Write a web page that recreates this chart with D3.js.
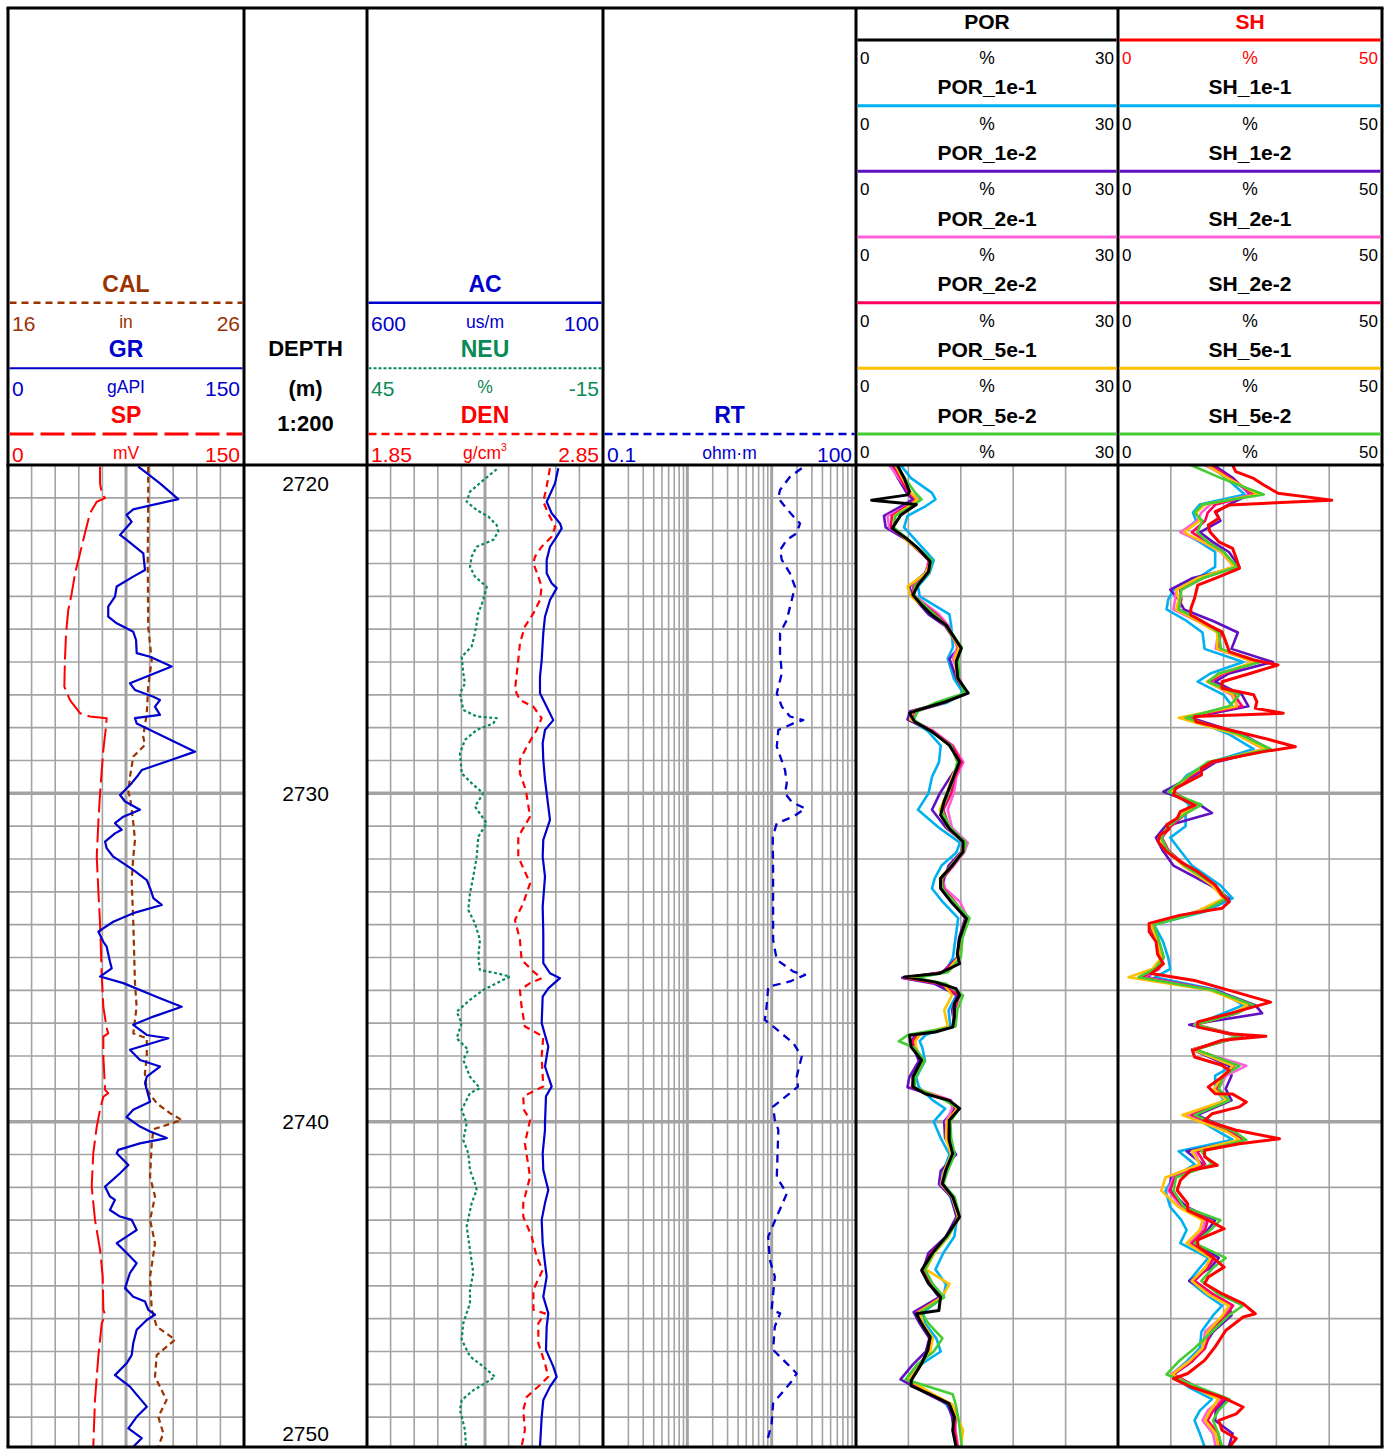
<!DOCTYPE html>
<html>
<head>
<meta charset="utf-8">
<script src="https://cdn.jsdelivr.net/npm/d3@7"></script>
<style>
  html, body { margin: 0; padding: 0; background: #fff; }
  svg { display: block; }
</style>
</head>
<body>
<svg id="log" width="1389" height="1449"></svg>
<script>
// ---------------------------------------------------------------
// Well log panel, 2720–2750 m, 1:200
// Each curve: [depth (m), value]
// ---------------------------------------------------------------
const DEPTH_TOP = 2720, DEPTH_BASE = 2750;
const DEPTH_LABELS = [2720, 2730, 2740, 2750];

const GR = [[2720.05,82.8],[2720.25,88.2],[2720.56,96.6],[2721.04,108.2],[2721.35,79.6],[2721.52,75.4],[2721.73,78.6],[2722.13,71.2],[2722.28,75.4],[2722.69,86],[2722.9,86.4],[2723.2,87.1],[2723.4,79.6],[2723.7,69.1],[2724.01,68],[2724.31,63.7],[2724.62,63.7],[2724.82,69.1],[2725.08,79.6],[2725.33,81.4],[2725.73,81.8],[2725.84,90.3],[2726.14,104],[2726.65,77.5],[2726.85,80.7],[2727.06,92.4],[2727.16,96.6],[2727.36,93.4],[2727.61,96.6],[2727.71,80.7],[2727.87,81.8],[2728.73,118.9],[2729.03,100.9],[2729.29,85],[2729.44,82.8],[2729.69,78.6],[2729.9,74.4],[2730.05,71.2],[2730.25,74.4],[2730.5,83.9],[2730.71,73.3],[2730.91,68],[2731.11,72.3],[2731.22,68],[2731.47,61.7],[2731.67,62.7],[2731.93,66.9],[2732.33,79.6],[2732.64,88.2],[2732.94,90.7],[2733.19,92.4],[2733.4,97.7],[2733.65,79.6],[2733.91,66.9],[2734.21,57.4],[2734.52,60.6],[2734.67,62.7],[2735.12,64.8],[2735.33,65.9],[2735.58,58.5],[2735.78,73.3],[2736.24,96.6],[2736.5,110.4],[2736.8,92.4],[2737.05,79.6],[2737.36,88.2],[2737.46,101.9],[2737.81,77.5],[2738.12,83.9],[2738.32,96.6],[2738.63,88.2],[2738.83,87.1],[2739.39,90.3],[2739.64,79.6],[2739.86,75.4],[2740.15,83.9],[2740.3,90.3],[2740.5,100.9],[2740.66,83.9],[2740.86,70.1],[2740.96,69.1],[2741.32,76.5],[2741.57,71.2],[2741.98,61.7],[2742.28,64.8],[2742.38,68],[2742.69,64.8],[2742.89,71.2],[2742.99,78.6],[2743.3,81.8],[2743.5,75.4],[2743.7,69.1],[2744.0,75.4],[2744.31,81.8],[2744.61,77.5],[2745.07,74.4],[2745.33,79.6],[2745.48,87.1],[2745.73,89.2],[2745.88,93.4],[2746.04,88.2],[2746.34,81.8],[2746.75,79.6],[2747.11,78.6],[2747.36,75.4],[2747.72,68],[2748.07,77.5],[2748.68,88.2],[2748.99,81.8],[2749.34,76.5],[2749.64,85],[2749.9,79.6]];

const SP = [[2720.05,58.5],[2720.56,58.5],[2720.86,59.6],[2721.01,61.7],[2721.12,56.4],[2721.47,52.1],[2722.08,48.9],[2722.69,45.8],[2723.3,42.6],[2723.91,40.5],[2724.42,38.3],[2725.12,36.9],[2725.94,36.2],[2726.75,35.8],[2727.16,39.4],[2727.56,45.8],[2727.66,52.1],[2727.71,62.7],[2727.97,62.3],[2728.68,60.6],[2729.29,59.6],[2730.0,58.5],[2730.91,57.4],[2731.93,56.4],[2732.94,57.4],[2733.95,58.5],[2735.58,59.6],[2736.5,60.6],[2737.15,62.7],[2737.31,63.7],[2737.41,60.6],[2738.02,60.6],[2739.03,61.7],[2739.13,63.7],[2739.24,60.6],[2739.64,58.5],[2740.15,56.4],[2740.96,54.2],[2741.98,53.2],[2742.99,55.3],[2743.9,58.5],[2744.72,60.2],[2745.73,60.6],[2745.88,61.7],[2746.14,59.6],[2747.15,57.4],[2748.47,55.3],[2749.9,54.2]];

const CAL = [[2720.05,21.94],[2721.01,21.94],[2722.89,21.92],[2724.92,21.94],[2725.94,22.09],[2726.75,21.94],[2727.56,21.88],[2728.27,21.73],[2728.53,21.8],[2728.88,21.31],[2729.49,21.17],[2730.0,21.1],[2730.1,21.17],[2730.91,21.31],[2731.42,21.38],[2731.93,21.31],[2732.64,21.24],[2733.96,21.31],[2735.78,21.38],[2736.5,21.45],[2736.9,21.38],[2737.31,21.31],[2737.46,21.88],[2738.02,21.88],[2738.53,21.8],[2739.03,21.88],[2739.44,22.3],[2739.74,22.86],[2739.95,23.36],[2740.23,22.16],[2740.66,22.09],[2741.68,22.02],[2742.28,22.23],[2742.99,22.02],[2743.7,22.23],[2744.72,22.02],[2745.73,22.09],[2746.24,22.3],[2746.64,23.08],[2747.11,22.3],[2747.77,22.23],[2748.48,22.72],[2748.99,22.37],[2749.49,22.58],[2749.9,22.37]];

const AC = [[2720.1,194.7],[2720.56,201.7],[2721.12,219.3],[2721.47,208.7],[2721.78,191.1],[2721.93,187.5],[2722.18,198.1],[2722.49,212.3],[2722.89,219.3],[2723.3,219.3],[2723.6,208.7],[2723.75,198.1],[2724.11,212.3],[2724.62,222.9],[2725.12,226.5],[2725.94,229.9],[2726.45,233.5],[2726.95,233.5],[2727.36,219.3],[2727.77,205.3],[2728.07,222.9],[2728.47,227.8],[2728.98,226.5],[2729.59,222.9],[2730.0,219.3],[2730.81,212.3],[2731.42,226.5],[2731.93,227.8],[2732.54,222.9],[2733.45,227.8],[2734.26,226.5],[2735.17,226.5],[2735.48,212.3],[2735.63,191.1],[2735.94,215.9],[2736.19,227.8],[2737.0,229.9],[2737.71,215.9],[2738.32,222.9],[2738.93,208.7],[2739.23,220.8],[2740.05,222.9],[2740.25,222.9],[2740.96,227.8],[2741.47,226.5],[2742.08,215.9],[2742.48,222.9],[2742.99,229.9],[2743.7,227.8],[2744.31,222.9],[2744.72,219.3],[2745.33,226.5],[2745.84,215.9],[2746.24,219.3],[2746.95,220.8],[2747.46,205.3],[2747.77,198.1],[2748.07,212.3],[2748.48,226.5],[2748.99,229.9],[2749.9,233.5]];

const NEU = [[2720.13,12.03],[2720.46,15.4],[2720.81,18.82],[2721.12,19.66],[2721.37,17.11],[2721.57,14.17],[2721.83,12.03],[2722.03,11.62],[2722.28,12.9],[2722.49,17.11],[2722.79,18.39],[2723.1,18.82],[2723.4,17.55],[2723.71,14.57],[2724.11,15.44],[2724.52,16.71],[2725.12,17.55],[2725.53,18.39],[2725.84,20.93],[2726.34,20.52],[2726.65,20.09],[2726.95,21.36],[2727.46,20.52],[2727.66,17.11],[2727.71,12.03],[2727.87,12.9],[2728.07,17.11],[2728.37,20.09],[2728.78,21.36],[2729.39,20.93],[2729.74,17.98],[2730.0,15.44],[2730.4,17.55],[2730.91,14.57],[2731.32,16.71],[2731.93,17.11],[2732.54,17.98],[2733.04,18.82],[2733.55,19.25],[2733.96,17.55],[2734.46,16.28],[2734.97,16.71],[2735.38,16.28],[2735.48,12.03],[2735.58,8.65],[2735.73,11.19],[2735.99,15.44],[2736.29,18.82],[2736.65,22.2],[2737.0,20.93],[2737.46,22.2],[2737.81,19.25],[2738.12,20.52],[2738.63,18.82],[2738.98,16.28],[2739.13,18.82],[2739.64,20.93],[2740.05,19.66],[2740.56,20.52],[2740.96,19.25],[2741.47,18.82],[2741.88,17.55],[2742.08,17.11],[2742.48,18.39],[2743.19,19.66],[2743.9,18.82],[2744.61,17.98],[2745.12,18.82],[2745.53,18.82],[2746.14,20.52],[2746.64,20.93],[2747.15,18.82],[2747.46,15.44],[2747.77,12.46],[2747.97,15.0],[2748.18,17.98],[2748.48,20.93],[2748.78,21.36],[2749.39,20.09],[2749.9,19.83]];

const DEN = [[2720.1,2.625],[2720.66,2.611],[2721.12,2.597],[2721.47,2.618],[2721.88,2.647],[2722.18,2.633],[2722.49,2.59],[2722.79,2.562],[2722.99,2.555],[2723.4,2.576],[2723.71,2.59],[2724.11,2.583],[2724.52,2.555],[2724.92,2.519],[2725.43,2.498],[2725.94,2.491],[2726.85,2.477],[2727.16,2.498],[2727.36,2.555],[2727.71,2.59],[2728.07,2.569],[2728.58,2.527],[2728.98,2.498],[2729.39,2.498],[2729.9,2.523],[2730.71,2.541],[2731.32,2.491],[2731.93,2.491],[2732.74,2.541],[2733.35,2.512],[2733.86,2.477],[2734.46,2.498],[2735.07,2.505],[2735.43,2.555],[2735.63,2.59],[2735.78,2.541],[2735.99,2.498],[2736.5,2.505],[2737.1,2.519],[2737.41,2.597],[2738.02,2.59],[2738.93,2.597],[2739.23,2.512],[2739.64,2.515],[2739.95,2.541],[2740.66,2.519],[2741.68,2.541],[2742.48,2.512],[2742.89,2.512],[2743.5,2.548],[2744.11,2.569],[2744.52,2.594],[2745.12,2.555],[2745.73,2.555],[2745.84,2.604],[2746.14,2.576],[2746.75,2.576],[2747.36,2.604],[2747.77,2.618],[2748.02,2.583],[2748.38,2.527],[2748.78,2.512],[2749.39,2.519],[2749.9,2.505]];

const RT = [[2720.1,22.7],[2720.36,16.5],[2720.76,12.56],[2721.01,12.0],[2721.27,14.4],[2721.57,18.1],[2721.78,21.7],[2722.08,19.8],[2722.28,15.1],[2722.59,12.56],[2722.89,13.2],[2723.3,16.5],[2723.71,18.9],[2724.11,17.3],[2724.72,15.1],[2725.12,12.56],[2725.73,12.56],[2726.34,13.2],[2726.95,11.5],[2727.36,13.2],[2727.66,16.5],[2727.77,23.7],[2727.87,18.1],[2728.07,12.0],[2728.58,11.5],[2729.29,14.4],[2729.69,15.1],[2730.0,14.4],[2730.26,17.3],[2730.46,24.9],[2730.71,18.1],[2730.91,11.5],[2731.32,10.3],[2732.44,10.4],[2734.46,10.4],[2735.07,11.5],[2735.43,18.1],[2735.53,24.9],[2735.73,16.5],[2735.89,9.1],[2736.5,8.7],[2736.9,8.3],[2737.1,10.4],[2737.61,18.1],[2738.02,22.7],[2738.63,19.8],[2738.93,20.5],[2739.13,16.5],[2739.54,10.4],[2739.95,10.9],[2740.25,12.0],[2741.68,11.5],[2742.19,15.1],[2742.89,11.5],[2743.5,9.1],[2744.21,9.5],[2744.72,10.9],[2745.73,10.0],[2745.84,12.6],[2746.24,10.9],[2746.95,10.4],[2747.36,15.1],[2747.67,19.8],[2747.97,16.5],[2748.58,10.4],[2749.19,10.0],[2749.8,8.7]];

// Porosity (%) — reference curve
const POR = [[2720.0,4.74],[2720.41,5.53],[2720.81,6.13],[2720.91,5.93],[2721.07,1.78],[2721.2,6.92],[2721.52,5.14],[2721.93,4.15],[2722.23,5.73],[2722.54,7.11],[2722.94,8.5],[2723.25,8.3],[2723.65,7.11],[2723.96,6.52],[2724.26,7.51],[2724.57,8.7],[2724.87,10.28],[2725.18,11.07],[2725.58,12.06],[2725.99,11.46],[2726.5,11.66],[2726.95,12.85],[2727.21,10.28],[2727.46,7.11],[2727.56,6.13],[2727.82,6.72],[2728.12,8.7],[2728.53,10.67],[2729.04,11.86],[2729.44,11.26],[2729.85,10.67],[2730.25,10.08],[2730.66,9.68],[2731.07,10.67],[2731.47,12.25],[2731.78,12.25],[2732.18,11.07],[2732.59,9.68],[2732.89,9.68],[2733.3,10.87],[2733.81,12.65],[2734.42,11.86],[2734.9,11.6],[2735.19,11.86],[2735.49,9.49],[2735.59,5.53],[2735.75,9.09],[2735.95,11.46],[2736.15,11.86],[2736.41,11.26],[2736.81,11.26],[2737.12,11.07],[2737.27,9.09],[2737.37,6.13],[2737.73,6.32],[2738.13,7.51],[2738.64,6.52],[2738.94,6.52],[2739.15,7.91],[2739.35,10.67],[2739.6,11.86],[2739.96,10.67],[2740.57,10.67],[2740.97,11.07],[2741.48,10.28],[2741.89,9.88],[2742.29,11.07],[2742.9,11.86],[2743.51,10.28],[2744.02,8.7],[2744.53,7.51],[2744.93,8.3],[2745.34,9.68],[2745.75,9.49],[2745.85,6.92],[2746.15,7.51],[2746.56,8.5],[2746.97,8.2],[2747.37,7.51],[2747.88,6.32],[2748.05,6.32],[2748.28,8.3],[2748.59,10.67],[2748.99,11.26],[2749.4,11.07],[2749.91,11.46]];

// Porosity realisations, sampled at common depths (%)
const POR_SET_DEPTH = [2720.0,2720.4,2720.85,2721.05,2721.25,2721.55,2721.9,2722.25,2722.9,2723.3,2723.7,2724.0,2724.55,2724.9,2725.55,2725.9,2726.5,2726.95,2727.25,2727.5,2727.75,2728.1,2728.55,2729.05,2729.5,2730.0,2730.5,2731.05,2731.5,2731.8,2732.2,2732.6,2732.9,2733.3,2733.8,2734.4,2735.0,2735.45,2735.62,2735.8,2736.15,2736.6,2737.1,2737.35,2737.55,2737.75,2738.15,2738.65,2738.95,2739.35,2739.6,2740.0,2740.5,2741.0,2741.5,2741.9,2742.3,2742.9,2743.5,2744.0,2744.5,2744.95,2745.35,2745.8,2746.15,2746.6,2747.0,2747.4,2747.85,2748.3,2748.6,2749.0,2749.4,2749.9];
const POR_1E1 = [5.1,6.3,8.7,9.1,8.0,5.9,5.5,6.7,8.9,8.4,7.1,7.3,10.7,10.9,11.1,10.5,11.2,12.3,10.3,6.7,6.1,8.2,9.7,9.5,8.7,8.3,7.1,9.5,11.9,11.5,9.8,9.0,8.7,9.9,11.7,11.4,11.1,10.2,6.6,9.5,11.5,10.6,10.8,8.0,7.3,7.6,7.9,6.9,7.2,8.8,10.2,8.9,9.7,10.7,10.0,9.9,10.8,11.6,11.26,10.0,9.1,10.3,10.0,7.7,7.9,9.2,9.7,7.4,6.1,8.6,10.3,11.26,11.3,11.6];
const POR_1E2 = [4.0,4.8,5.8,6.5,5.2,3.2,3.4,5.6,8.5,7.9,6.1,6.5,8.3,10.2,11.8,10.7,11.5,12.6,9.8,6.2,5.9,8.7,11.1,12.0,10.8,9.6,8.7,10.3,12.4,12.0,10.6,10.1,9.9,11.1,12.5,11.8,11.6,9.9,5.3,9.0,11.6,11.0,11.3,6.8,6.4,6.6,7.2,6.1,5.9,10.6,11.3,10.1,10.2,11.46,9.7,9.5,10.9,11.5,10.3,8.3,7.7,8.4,9.5,6.6,7.3,8.4,8.0,6.5,5.1,8.2,10.5,11.0,11.2,11.5];
const POR_2E1 = [3.8,4.9,6.2,7.2,6.0,3.6,3.8,5.8,8.3,8.0,6.5,6.8,9.5,10.6,11.6,11.1,11.9,12.5,10.0,6.9,6.3,8.9,11.1,12.3,11.5,11.2,10.5,11.0,12.8,12.4,11.2,9.9,10.2,11.9,12.8,12.0,11.8,10.1,5.8,9.8,11.9,11.2,11.1,7.2,6.6,6.8,7.7,6.6,6.5,10.9,11.0,10.3,10.5,11.0,10.2,9.7,11.07,11.9,10.5,8.8,7.8,8.6,9.9,7.0,7.6,8.7,8.4,7.2,5.8,8.6,10.8,11.3,11.4,11.7];
const POR_2E2 = [4.3,5.1,6.0,6.9,5.8,4.1,4.0,5.7,8.4,8.1,6.6,6.6,9.2,10.5,11.7,11.4,11.7,12.6,9.9,6.6,6.3,8.7,11.0,12.1,11.3,10.9,10.0,10.7,12.5,12.2,11.1,9.9,10.0,11.3,12.7,12.0,11.8,10.0,5.6,9.6,11.8,11.3,11.2,7.0,6.5,6.7,7.6,6.6,6.4,10.5,11.5,10.5,10.6,11.2,10.3,10.0,11.1,11.8,10.4,8.6,7.6,8.5,9.7,7.1,7.5,8.6,8.3,7.3,5.9,8.5,10.7,11.4,11.3,11.6];
const POR_5E1 = [4.5,5.3,6.3,7.0,6.1,4.4,4.3,5.6,8.6,8.0,5.9,6.3,8.8,10.3,11.8,11.3,11.6,12.7,9.6,6.5,6.2,8.6,10.8,11.8,11.0,10.4,9.6,10.5,12.3,12.1,10.9,9.6,9.7,11.0,12.6,11.9,11.7,10.3,6.2,10.0,11.0,10.1,10.5,7.3,6.8,6.9,7.6,6.5,6.6,10.4,11.6,10.4,10.3,10.9,10.1,9.8,11.0,11.7,10.6,9.0,8.0,10.7,9.8,7.2,7.7,8.8,8.5,7.4,6.0,8.8,11.0,11.6,12.25,12.0];
const POR_5E2 = [4.6,5.6,6.8,7.5,6.4,4.5,4.3,5.9,8.7,8.3,6.7,6.7,9.0,10.4,12.1,11.7,11.8,12.4,9.0,7.1,6.6,8.5,10.9,11.6,11.2,10.6,9.8,10.8,12.6,12.3,11.0,9.8,9.9,11.2,13.0,12.2,12.0,10.5,6.8,10.3,12.25,11.6,11.4,6.0,4.9,6.7,7.9,6.8,6.7,10.2,11.8,10.8,10.9,11.3,10.5,10.0,11.3,11.9,10.5,8.9,7.9,8.8,10.1,7.4,8.3,9.9,8.9,7.0,5.7,11.07,11.4,11.7,11.9,12.1];

// Shale content (%) — reference curve
const SH = [[2720.0,21.7],[2720.2,22.3],[2720.41,25.7],[2720.61,27.6],[2720.86,30.3],[2721.07,40.5],[2721.22,21.1],[2721.42,18.4],[2721.62,19.1],[2721.83,17.1],[2722.03,17.4],[2722.34,19.1],[2722.54,21.7],[2722.84,22.4],[2723.15,23.0],[2723.45,18.4],[2723.66,15.1],[2724.06,14.5],[2724.37,13.8],[2724.57,13.8],[2724.87,17.1],[2725.08,19.7],[2725.38,20.4],[2725.69,21.1],[2725.94,25.7],[2726.09,30.3],[2726.35,25.0],[2726.6,19.7],[2726.8,19.7],[2727.0,25.7],[2727.21,26.3],[2727.41,26.0],[2727.56,31.3],[2727.66,14.5],[2727.82,14.8],[2728.32,27.6],[2728.58,33.6],[2728.73,27.6],[2729.04,17.8],[2729.24,15.8],[2729.44,15.8],[2729.85,10.9],[2730.05,10.5],[2730.36,14.5],[2730.56,11.8],[2730.76,11.2],[2730.96,9.2],[2731.1,9.6],[2731.27,7.9],[2731.47,7.6],[2731.78,9.2],[2732.08,11.8],[2732.39,15.1],[2732.79,18.4],[2733.1,19.7],[2733.3,21.1],[2733.5,19.7],[2733.71,11.8],[2733.96,5.9],[2734.21,5.9],[2734.52,7.2],[2734.9,7.5],[2735.19,8.6],[2735.49,6.3],[2735.7,14.5],[2736.0,21.1],[2736.36,28.9],[2736.71,21.1],[2736.96,15.1],[2737.12,15.1],[2737.32,21.1],[2737.4,28.0],[2737.52,19.7],[2737.83,14.1],[2738.03,14.5],[2738.28,19.7],[2738.44,21.1],[2738.64,19.7],[2738.94,17.1],[2739.15,18.4],[2739.16,21.7],[2739.4,24.3],[2739.55,23.0],[2739.76,17.8],[2739.96,16.4],[2740.26,22.4],[2740.52,30.6],[2740.67,23.0],[2740.87,16.4],[2741.07,16.4],[2741.33,18.8],[2741.48,13.8],[2741.79,11.8],[2742.09,11.2],[2742.5,13.2],[2742.7,13.2],[2743.0,17.1],[2743.26,20.1],[2743.6,15.1],[2743.8,15.1],[2744.12,17.8],[2744.43,20.1],[2744.73,17.1],[2744.93,16.4],[2745.24,19.7],[2745.54,23.7],[2745.85,26.0],[2745.95,23.7],[2746.36,20.4],[2746.86,18.4],[2747.27,16.4],[2747.67,13.2],[2747.83,10.5],[2748.08,13.8],[2748.39,19.7],[2748.69,23.7],[2748.9,22.4],[2749.1,19.1],[2749.4,19.7],[2749.65,22.4],[2749.91,21.1]];

// Shale realisations, sampled at common depths (%)
const SH_SET_DEPTH = [2720.0,2720.4,2720.9,2721.2,2721.45,2721.7,2722.05,2722.35,2722.65,2723.1,2723.45,2723.8,2724.1,2724.4,2724.75,2725.1,2725.6,2726.0,2726.35,2726.6,2727.0,2727.35,2727.7,2728.2,2728.65,2729.05,2729.45,2729.95,2730.35,2730.6,2731.0,2731.35,2731.75,2732.2,2732.8,2733.2,2733.6,2734.0,2734.5,2735.0,2735.35,2735.6,2736.0,2736.45,2736.7,2737.05,2737.4,2737.8,2738.3,2738.6,2739.0,2739.35,2739.8,2740.3,2740.55,2740.9,2741.3,2741.7,2742.1,2742.6,2743.0,2743.3,2743.7,2744.15,2744.45,2744.85,2745.25,2745.6,2745.9,2746.4,2746.9,2747.3,2747.7,2748.1,2748.45,2748.8,2749.1,2749.5,2749.9];
const SH_1E1 = [17.1,20.5,24.0,15.5,14.2,14.8,12.2,15.5,18.4,18.4,15.0,10.5,9.5,9.2,13.0,16.0,16.4,23.7,17.5,15.1,20.0,21.7,13.5,21.0,25.7,17.5,13.0,10.5,13.5,12.8,12.8,9.9,11.8,14.0,19.4,21.7,16.5,6.8,8.5,9.5,9.9,7.0,19.0,23.7,20.0,14.5,22.5,14.5,21.7,18.4,18.4,20.1,13.8,19.0,21.7,11.5,14.5,10.5,9.0,9.9,12.0,13.0,11.8,17.1,15.5,13.5,16.5,19.7,18.0,15.8,15.5,13.0,10.2,13.5,17.8,15.5,14.5,15.5,16.4];
const SH_1E2 = [18.1,21.8,25.0,21.0,18.5,19.4,15.5,18.0,21.0,23.0,14.0,9.9,11.5,12.5,18.0,22.7,21.5,29.3,21.0,18.4,23.5,24.7,13.8,23.5,28.6,18.5,14.5,8.6,15.5,17.8,9.0,7.2,8.5,10.5,17.5,21.0,15.0,6.0,7.3,8.3,7.5,5.5,18.5,26.0,27.3,13.5,23.5,14.0,21.0,21.5,20.4,21.5,15.0,22.0,24.0,13.0,16.0,10.0,9.9,13.0,18.4,17.0,14.5,19.1,17.5,13.5,17.8,21.0,21.5,18.0,16.0,14.0,10.5,15.0,20.5,18.5,18.4,21.7,21.0];
const SH_2E1 = [16.5,21.0,25.5,17.5,15.8,15.0,11.8,16.0,19.5,22.0,15.5,11.0,10.8,10.5,15.0,19.0,18.5,26.0,19.5,17.0,21.5,22.7,12.5,22.5,27.6,17.8,13.5,10.0,14.5,12.5,10.0,8.0,9.5,12.5,18.0,20.5,15.5,6.3,7.6,8.6,7.8,5.0,18.2,25.0,22.0,14.5,23.0,14.3,24.3,20.5,19.0,21.0,13.0,21.0,23.5,14.5,15.5,10.5,9.5,12.0,16.5,16.0,13.5,18.0,16.5,14.0,17.5,21.5,20.0,16.5,16.0,13.5,10.0,14.5,19.5,17.0,16.0,18.0,18.5];
const SH_2E2 = [17.5,21.2,25.8,18.5,17.0,16.5,14.0,17.0,20.0,22.3,16.0,11.8,12.0,11.5,15.5,19.5,19.0,26.5,20.0,17.5,22.0,23.5,13.0,23.0,28.2,18.0,14.0,10.3,14.8,13.0,10.0,8.3,9.6,12.8,18.2,20.8,15.5,6.1,7.5,8.3,7.6,4.5,18.0,25.2,22.5,14.8,23.5,14.5,22.0,20.0,18.5,21.0,14.0,21.5,23.8,15.0,16.5,10.8,9.8,12.5,17.0,16.5,14.0,18.2,17.0,14.5,18.0,21.8,20.5,17.5,16.5,14.0,10.5,15.0,20.0,18.0,17.0,19.0,19.5];
const SH_5E1 = [16.8,20.8,26.5,16.5,14.8,15.5,12.5,16.2,19.6,22.0,15.0,11.0,11.5,11.0,15.0,18.8,18.8,25.8,19.5,16.8,21.8,22.5,11.5,22.3,27.8,17.5,13.5,10.0,14.6,12.5,9.5,8.0,9.2,12.3,17.8,20.0,15.0,6.2,7.5,8.2,6.5,2.0,17.5,24.5,21.8,14.5,22.8,14.2,21.8,19.8,18.2,20.5,12.2,20.5,23.0,14.0,15.5,9.0,8.2,11.5,16.0,15.5,13.0,17.5,16.5,14.0,17.0,21.0,19.8,17.0,16.0,13.5,10.3,14.5,19.0,17.5,16.5,18.5,19.0];
const SH_5E2 = [13.8,19.5,27.6,16.0,14.5,16.0,15.0,17.0,20.0,22.6,16.0,12.0,11.8,11.5,16.0,19.1,19.5,27.0,19.0,17.1,23.0,21.0,12.8,23.0,28.9,17.0,13.5,9.5,15.8,13.0,9.5,8.2,9.4,12.6,18.5,20.6,16.0,6.8,7.8,8.7,7.0,3.9,18.0,25.7,22.5,14.6,23.0,14.8,23.0,20.0,19.1,21.1,14.5,22.0,24.3,15.8,17.8,11.0,10.5,12.5,19.4,17.5,14.5,20.4,18.0,15.8,19.0,23.7,21.0,17.8,14.5,11.5,9.2,15.5,21.1,19.0,18.0,19.0,19.7];

// ---------------------------------------------------------------
// Layout
// ---------------------------------------------------------------
const FONT = "'Liberation Sans', Arial, Helvetica, sans-serif";
const TOP = 8, HEAD = 465, BOT = 1447, LEFT = 8, RIGHT = 1382;
const TRACK = {
  t1:  [8, 244],
  dep: [244, 367],
  t3:  [367, 603],
  t4:  [603, 856],
  por: [856, 1118],
  sh:  [1118, 1382]
};
const HEADER_LINES = d3.range(7).map(k => 40 + k * 65.67);   // header rule positions
const GRID = '#a3a3a3';

const svg = d3.select('#log');
const y = d3.scaleLinear().domain([DEPTH_TOP, DEPTH_BASE]).range([465, 1450]);

const xs = {
  gr:  d3.scaleLinear().domain([0, 150]).range(TRACK.t1),
  sp:  d3.scaleLinear().domain([0, 150]).range(TRACK.t1),
  cal: d3.scaleLinear().domain([16, 26]).range(TRACK.t1),
  ac:  d3.scaleLinear().domain([600, 100]).range(TRACK.t3),
  neu: d3.scaleLinear().domain([45, -15]).range(TRACK.t3),
  den: d3.scaleLinear().domain([1.85, 2.85]).range(TRACK.t3),
  rt:  d3.scaleLog().domain([0.1, 100]).range(TRACK.t4),
  por: d3.scaleLinear().domain([0, 30]).range(TRACK.por),
  sh:  d3.scaleLinear().domain([0, 50]).range(TRACK.sh)
};

// clip regions for each data track
const defs = svg.append('defs');
Object.entries(TRACK).forEach(([k, [x0, x1]]) => {
  defs.append('clipPath').attr('id', 'clip-' + k)
    .append('rect').attr('x', x0).attr('y', HEAD).attr('width', x1 - x0).attr('height', BOT - HEAD);
});

const gridLayer = svg.append('g');
const curveLayer = svg.append('g');
const frameLayer = svg.append('g');
const textLayer = svg.append('g').style('font-family', FONT);

function hline(g, x0, x1, yy, w, color) {
  g.append('line').attr('x1', x0).attr('x2', x1).attr('y1', yy).attr('y2', yy)
    .attr('stroke', color).attr('stroke-width', w);
}
function vline(g, xx, y0, y1, w, color) {
  g.append('line').attr('x1', xx).attr('x2', xx).attr('y1', y0).attr('y2', y1)
    .attr('stroke', color).attr('stroke-width', w);
}

// ---------------------------------------------------------------
// Grids
// ---------------------------------------------------------------
function depthGrid(track, step) {
  const [x0, x1] = TRACK[track];
  d3.range(DEPTH_TOP + step, DEPTH_BASE, step).forEach(d => {
    hline(gridLayer, x0, x1, y(d), d % 10 === 0 ? 3.5 : 1.6, GRID);
  });
}
function linearGrid(track, nDiv, midThick) {
  const [x0, x1] = TRACK[track];
  const s = d3.scaleLinear().domain([0, nDiv]).range([x0, x1]);
  d3.range(1, nDiv).forEach(i => {
    vline(gridLayer, s(i), HEAD, BOT, (midThick && i === nDiv / 2) ? 3 : 1.6, GRID);
  });
}
['t1', 't3', 't4'].forEach(t => depthGrid(t, 1));
['por', 'sh'].forEach(t => depthGrid(t, 2));
linearGrid('t1', 10, true);
linearGrid('t3', 10, true);
linearGrid('por', 5, false);
linearGrid('sh', 5, false);
xs.rt.ticks().forEach(v => {
  const lg = Math.log10(v);
  if (v <= 0.1 || v >= 100) return;
  const decade = Math.abs(lg - Math.round(lg)) < 1e-9;
  vline(gridLayer, xs.rt(v), HEAD, BOT, decade ? 3 : 1.6, GRID);
});

// ---------------------------------------------------------------
// Curves
// ---------------------------------------------------------------
function drawCurve(track, pts, scale, st) {
  const line = d3.line().x(p => scale(p[1])).y(p => y(p[0]));
  curveLayer.append('path')
    .attr('clip-path', `url(#clip-${track})`)
    .attr('d', line(pts))
    .attr('fill', 'none')
    .attr('stroke', st.color)
    .attr('stroke-width', st.width)
    .attr('stroke-dasharray', st.dash || null)
    .attr('stroke-linejoin', 'round')
    .attr('stroke-linecap', st.cap || 'butt');
}
const pairs = (depths, vals) => depths.slice(0, Math.min(depths.length, vals.length)).map((d, i) => [d, vals[i]]);

const C = {
  cal: '#993300', gr: '#0000cc', sp: '#ff0000',
  ac: '#0000cc', neu: '#0a8a55', den: '#ff0000', rt: '#0000cc',
  c1: '#00b0f0', c2: '#6010c0', c3: '#ff60d8', c4: '#ff0060', c5: '#ffc000', c6: '#44cc33'
};

// Track 1
drawCurve('t1', SP, xs.sp, { color: C.sp, width: 2, dash: '24,6' });
drawCurve('t1', CAL, xs.cal, { color: C.cal, width: 2.2, dash: '6,4' });
drawCurve('t1', GR, xs.gr, { color: C.gr, width: 2.2 });
// Track 3
drawCurve('t3', NEU, xs.neu, { color: C.neu, width: 2.2, dash: '3,2.5' });
drawCurve('t3', DEN, xs.den, { color: C.den, width: 2.2, dash: '7,5' });
drawCurve('t3', AC, xs.ac, { color: C.ac, width: 2.2 });
// Track 4
drawCurve('t4', RT, xs.rt, { color: C.rt, width: 2.3, dash: '8,6' });

// Porosity bundle
const porSet = [[POR_1E1, C.c1], [POR_1E2, C.c2], [POR_2E1, C.c3], [POR_2E2, C.c4], [POR_5E1, C.c5], [POR_5E2, C.c6]];
porSet.forEach(([vals, col]) => drawCurve('por', pairs(POR_SET_DEPTH, vals), xs.por, { color: col, width: 2.6 }));
drawCurve('por', POR, xs.por, { color: '#000', width: 3 });

// Shale bundle
const shSet = [[SH_1E1, C.c1], [SH_1E2, C.c2], [SH_2E1, C.c3], [SH_2E2, C.c4], [SH_5E1, C.c5], [SH_5E2, C.c6]];
shSet.forEach(([vals, col]) => drawCurve('sh', pairs(SH_SET_DEPTH, vals), xs.sh, { color: col, width: 2.6 }));
drawCurve('sh', SH, xs.sh, { color: '#ff0000', width: 3 });

// ---------------------------------------------------------------
// Frame
// ---------------------------------------------------------------
Object.values(TRACK).forEach(([x0]) => vline(frameLayer, x0, TOP, BOT, 3, '#000'));
vline(frameLayer, RIGHT, TOP, BOT, 3, '#000');
hline(frameLayer, LEFT - 1.5, RIGHT + 1.5, TOP, 3, '#000');
hline(frameLayer, LEFT - 1.5, RIGHT + 1.5, HEAD, 3, '#000');
hline(frameLayer, LEFT - 1.5, RIGHT + 1.5, BOT, 3, '#000');

// ---------------------------------------------------------------
// Header text helpers
// ---------------------------------------------------------------
function label(x, yy, s, o) {
  const t = textLayer.append('text').attr('x', x).attr('y', yy)
    .attr('text-anchor', o.anchor || 'start')
    .attr('font-size', o.size).attr('font-weight', o.weight || 'normal')
    .attr('fill', o.color || '#000');
  if (s.includes('^')) {
    const [base, sup] = s.split('^');
    t.append('tspan').text(base);
    t.append('tspan').attr('font-size', o.size * 0.6).attr('dy', -o.size * 0.45).text(sup);
  } else {
    t.text(s);
  }
  return t;
}

// Curve header block for the conventional tracks (title above a styled rule, scale below)
function logHeader(track, lineY, name, color, rule, left, unit, right) {
  const [x0, x1] = TRACK[track];
  const cx = (x0 + x1) / 2;
  label(cx, lineY - 11, name, { size: 23, weight: 'bold', color, anchor: 'middle' });
  frameLayer.append('line').attr('x1', x0 + 1.5).attr('x2', x1 - 1.5).attr('y1', lineY).attr('y2', lineY)
    .attr('stroke', color).attr('stroke-width', rule.width).attr('stroke-dasharray', rule.dash || null);
  label(x0 + 4, lineY + 28, left, { size: 21, color });
  label(cx, lineY + 25, unit, { size: 17.5, color, anchor: 'middle' });
  label(x1 - 4, lineY + 28, right, { size: 21, color, anchor: 'end' });
}

const L = HEADER_LINES;
logHeader('t1', L[4], 'CAL', C.cal, { width: 2.5, dash: '7,5' }, '16', 'in', '26');
logHeader('t1', L[5], 'GR', C.gr, { width: 2 }, '0', 'gAPI', '150');
logHeader('t1', L[6], 'SP', C.sp, { width: 3, dash: '24,7' }, '0', 'mV', '150');
logHeader('t3', L[4], 'AC', C.ac, { width: 2.5 }, '600', 'us/m', '100');
logHeader('t3', L[5], 'NEU', C.neu, { width: 2, dash: '3,2' }, '45', '%', '-15');
logHeader('t3', L[6], 'DEN', C.den, { width: 2.5, dash: '8,5' }, '1.85', 'g/cm^3', '2.85');
logHeader('t4', L[6], 'RT', C.rt, { width: 2.5, dash: '8,5' }, '0.1', 'ohm·m', '100');

// Depth column header
const depCx = (TRACK.dep[0] + TRACK.dep[1]) / 2;
label(depCx, 356, 'DEPTH', { size: 22, weight: 'bold', anchor: 'middle' });
label(depCx, 396, '(m)', { size: 22, weight: 'bold', anchor: 'middle' });
label(depCx, 431, '1:200', { size: 22, weight: 'bold', anchor: 'middle' });

// Depth labels
DEPTH_LABELS.forEach(d => {
  const yy = Math.max(HEAD + 18, Math.min(BOT - 14, y(d)));
  label(depCx, yy + 7.5, String(d), { size: 21, anchor: 'middle' });
});

// Multi-curve headers (POR / SH)
const POR_NAMES = ['POR', 'POR_1e-1', 'POR_1e-2', 'POR_2e-1', 'POR_2e-2', 'POR_5e-1', 'POR_5e-2'];
const SH_NAMES = ['SH', 'SH_1e-1', 'SH_1e-2', 'SH_2e-1', 'SH_2e-2', 'SH_5e-1', 'SH_5e-2'];
const RULE_COLORS_POR = ['#000', C.c1, C.c2, C.c3, C.c4, C.c5, C.c6];
const RULE_COLORS_SH = ['#ff0000', C.c1, C.c2, C.c3, C.c4, C.c5, C.c6];

function stackHeader(track, names, ruleColors, lo, hi, firstColor) {
  const [x0, x1] = TRACK[track];
  const cx = (x0 + x1) / 2;
  names.forEach((n, k) => {
    const ly = HEADER_LINES[k];
    const col = k === 0 ? firstColor : '#000';
    label(cx, ly - 11.5, n, { size: 21, weight: 'bold', color: col, anchor: 'middle' });
    frameLayer.append('line').attr('x1', x0 + 1.5).attr('x2', x1 - 1.5).attr('y1', ly).attr('y2', ly)
      .attr('stroke', ruleColors[k]).attr('stroke-width', 3);
    label(x0 + 4, ly + 24, String(lo), { size: 17, color: col });
    label(cx, ly + 24, '%', { size: 17.5, color: col, anchor: 'middle' });
    label(x1 - 4, ly + 24, String(hi), { size: 17, color: col, anchor: 'end' });
  });
}
stackHeader('por', POR_NAMES, RULE_COLORS_POR, 0, 30, '#000');
stackHeader('sh', SH_NAMES, RULE_COLORS_SH, 0, 50, '#ff0000');
</script>
</body>
</html>
